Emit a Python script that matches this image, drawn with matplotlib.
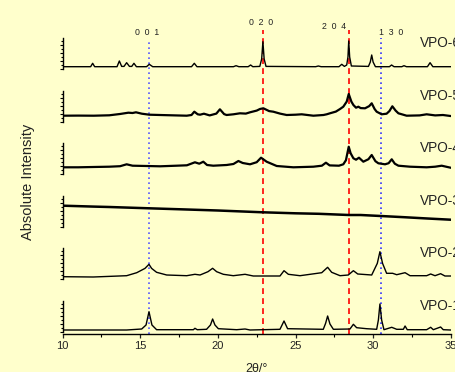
import matplotlib
matplotlib.use("Agg")
import matplotlib.pyplot as plt
from matplotlib.ticker import MultipleLocator

plt.rcParams['font.family'] = ['Liberation Sans', 'DejaVu Sans']

# --- data (2theta in degrees, intensity in a.u.) ---
samples = ["VPO-6", "VPO-5", "VPO-4", "VPO-3", "VPO-2", "VPO-1"]

vpo6_tt = [10.04, 11.8, 11.93, 12.06, 13.5, 13.65, 13.8, 13.95, 14.12, 14.3, 14.45, 14.59, 14.75,
           15.4, 15.58, 15.8, 18.3, 18.48, 18.65, 21.0, 21.17, 21.35, 21.95, 22.11, 22.25, 22.7,
           22.82, 22.9, 22.98, 23.1, 26.3, 26.47, 26.65, 27.8, 27.98, 28.15, 28.3, 28.38, 28.43,
           28.49, 28.6, 29.7, 29.82, 29.91, 30.0, 30.15, 31.05, 31.19, 31.35, 31.85, 31.99, 32.15,
           33.5, 33.67, 33.85, 34.99]
vpo6_int = [2.3, 2.3, 5.7, 2.3, 2.3, 8.0, 2.6, 2.6, 6.3, 2.6, 2.6, 5.7, 2.3,
            2.3, 4.7, 2.3, 2.3, 5.7, 2.3, 2.3, 3.3, 2.3, 2.3, 4.0, 2.3, 2.6,
            10.0, 27.3, 10.0, 2.6, 2.3, 3.0, 2.3, 2.3, 4.7, 2.6, 4.0, 12.0, 28.0,
            12.0, 3.0, 2.6, 7.0, 14.0, 7.0, 2.3, 2.3, 4.0, 2.3, 2.3, 3.3, 2.3,
            2.3, 6.3, 2.3, 2.3]

vpo5_tt = [10.04, 11.0, 12.0, 13.0, 13.69, 14.23, 14.5, 14.72, 15.1, 15.58, 16.27, 17.99, 18.3,
           18.48, 18.7, 18.85, 19.1, 19.47, 19.9, 20.13, 20.4, 20.56, 21.0, 21.42, 21.8, 22.07,
           22.5, 22.71, 22.93, 23.3, 23.57, 24.0, 24.43, 25.0, 25.4, 26.15, 26.8, 27.01, 27.22,
           27.6, 27.87, 28.08, 28.3, 28.43, 28.6, 28.73, 28.9, 29.05, 29.2, 29.48, 29.75, 29.91,
           30.1, 30.23, 30.55, 30.87, 31.05, 31.24, 31.45, 31.63, 32.16, 33.0, 33.45, 34.0, 34.5,
           34.99]
vpo5_int = [5.9, 6.0, 5.9, 6.3, 7.6, 8.9, 8.6, 9.3, 7.9, 6.9, 6.6, 5.9, 6.6,
            9.9, 7.3, 6.9, 7.9, 6.2, 8.0, 12.3, 7.5, 6.6, 7.3, 8.3, 8.0, 9.3,
            11.0, 12.6, 13.3, 10.5, 9.9, 8.0, 6.6, 6.9, 7.3, 5.9, 6.6, 7.3, 8.3,
            10.0, 12.6, 14.9, 20.0, 27.6, 20.0, 16.6, 13.9, 14.9, 13.5, 13.3, 15.5, 18.3,
            12.5, 9.9, 7.3, 7.9, 10.5, 15.3, 11.0, 8.3, 5.9, 6.2, 7.3, 6.2, 6.6,
            5.6]

vpo4_tt = [10.04, 11.0, 11.97, 13.0, 13.7, 14.12, 14.5, 15.41, 16.27, 17.34, 18.0, 18.52, 18.8,
           19.06, 19.3, 19.7, 20.56, 21.0, 21.32, 21.6, 22.07, 22.5, 22.78, 23.14, 23.79, 24.86,
           26.15, 26.7, 26.96, 27.2, 27.8, 28.08, 28.25, 28.43, 28.55, 28.73, 28.9, 29.09, 29.37,
           29.7, 29.91, 30.15, 30.34, 30.77, 31.0, 31.2, 31.4, 31.63, 32.38, 33.45, 34.0, 34.42,
           34.99]
vpo4_int = [6.9, 6.9, 7.2, 7.5, 8.0, 9.9, 8.5, 8.2, 7.9, 8.5, 8.9, 11.9, 10.5,
            12.5, 9.2, 8.5, 9.2, 10.2, 13.2, 11.2, 9.9, 12.0, 16.5, 12.5, 8.2, 6.9,
            7.5, 8.5, 11.5, 8.8, 8.5, 9.9, 14.0, 27.5, 21.0, 15.9, 14.5, 16.5, 12.5,
            15.0, 19.2, 13.0, 10.9, 9.9, 11.0, 14.9, 10.5, 8.5, 7.5, 6.9, 7.5, 8.5,
            6.5]

vpo3_tt = [10.04, 12.0, 13.0, 15.56, 18.0, 20.0, 22.9, 25.0, 26.5, 28.43, 29.2, 30.49, 32.0, 33.5, 34.99]
vpo3_int = [21.1, 20.2, 19.8, 18.5, 17.3, 16.3, 14.5, 13.5, 13.0, 11.8, 11.8, 10.8, 9.6, 8.3, 7.1]

vpo2_tt = [10.04, 11.97, 14.12, 14.77, 15.3, 15.56, 15.73, 16.05, 16.7, 17.99, 18.52, 18.85, 19.36,
           19.66, 19.92, 20.35, 20.99, 21.75, 22.28, 24.0, 24.26, 24.54, 25.29, 26.69, 27.07, 27.33,
           27.87, 28.4, 28.73, 29.01, 29.91, 30.27, 30.44, 30.61, 30.87, 31.26, 31.52, 32.06, 32.38,
           33.45, 33.71, 33.99, 34.35, 34.63, 34.99]
vpo2_int = [2.7, 2.4, 3.7, 6.7, 11.0, 15.1, 11.0, 7.1, 4.4, 3.7, 5.1, 4.4, 7.7,
            11.1, 7.7, 5.1, 3.7, 5.1, 3.4, 3.4, 8.7, 5.1, 3.7, 6.7, 12.1, 7.1,
            3.7, 4.4, 8.7, 5.4, 4.4, 16.0, 27.7, 16.0, 6.1, 6.1, 4.7, 6.7, 3.7,
            3.7, 5.4, 3.7, 5.7, 3.4, 3.4]

vpo1_tt = [10.04, 14.12, 15.09, 15.37, 15.56, 15.75, 16.05, 18.42, 18.52, 18.67, 19.27, 19.52, 19.66,
           19.81, 20.03, 21.21, 21.75, 22.07, 24.0, 24.26, 24.49, 26.79, 26.94, 27.07, 27.22, 27.44,
           28.51, 28.73, 28.94, 29.58, 30.23, 30.34, 30.44, 30.55, 30.7, 31.2, 31.52, 31.95, 32.06,
           32.2, 33.45, 33.71, 33.88, 34.35, 34.52, 34.99]
vpo1_int = [2.0, 2.0, 3.0, 7.0, 20.3, 7.0, 2.3, 2.3, 3.7, 2.3, 2.7, 7.0, 13.0,
            7.0, 3.3, 2.3, 3.0, 2.0, 2.7, 11.0, 3.3, 2.7, 8.7, 16.0, 8.0, 2.7,
            3.0, 7.7, 4.3, 3.3, 2.7, 12.0, 28.0, 12.0, 2.3, 4.7, 2.7, 2.7, 6.0,
            2.3, 2.3, 4.7, 2.3, 5.0, 2.3, 2.0]

patterns = [(vpo6_tt, vpo6_int), (vpo5_tt, vpo5_int), (vpo4_tt, vpo4_int),
            (vpo3_tt, vpo3_int), (vpo2_tt, vpo2_int), (vpo1_tt, vpo1_int)]

hkl_labels = ["0  0  1", "0  2  0", "2  0  4", "1  3  0"]
hkl_pos = [15.56, 22.93, 28.43, 30.49]

# --- layout (pixels of a 455x372 figure) ---
W, H = 455, 372
BG = "#FFFFCC"
line_widths = [1.0, 1.6, 1.6, 1.8, 1.0, 1.0]


def rect(left, top, width, height):
    return [left / W, 1 - (top + height) / H, width / W, height / H]


fig = plt.figure(figsize=(W / 100, H / 100), dpi=100, facecolor=BG)

main = fig.add_axes(rect(62.7, 30, 388, 304))
main.set_facecolor("none")
main.set_xlim(10, 35)
main.set_ylim(0, 1)
for s in ["top", "right", "left"]:
    main.spines[s].set_visible(False)
main.spines["bottom"].set_linewidth(1.0)
main.set_yticks([])
main.xaxis.set_major_locator(MultipleLocator(5))
main.xaxis.set_minor_locator(MultipleLocator(2.5))
main.tick_params(axis="x", which="major", direction="out", length=3, width=0.9,
                 labelsize=8, colors="#222222", pad=2)
main.tick_params(axis="x", which="minor", direction="out", length=1.8, width=0.8)
main.set_xlabel("2θ/°", fontsize=9, color="#222222", labelpad=9)
main.set_ylabel("Absolute Intensity", fontsize=10.5, color="#222222", labelpad=20)

line_styles = [((0, (1, 2)), "#5555FF", 0.967, 0.993, 15.45),
               ((0, (3.5, 2.5)), "#FF0000", 1.0, 1.024, 22.78),
               ((0, (3.5, 2.5)), "#FF0000", 1.0, 1.013, 27.48),
               ((0, (1, 2)), "#3333FF", 0.974, 0.993, 31.15)]
for pos, lab, (ls, col, ymax, ty, tx) in zip(hkl_pos, hkl_labels, line_styles):
    main.axvline(pos, ymin=0, ymax=ymax, ls=ls, color=col, lw=1.2, zorder=1)
    main.text(tx, ty, lab, transform=main.get_xaxis_transform(), ha="center", va="center",
              fontsize=6.3, color="#222222", clip_on=False)

for i, (name, (tt, inten)) in enumerate(zip(samples, patterns)):
    ax = fig.add_axes(rect(62.7, 38 + 52.6 * i, 388, 31))
    ax.set_facecolor("none")
    ax.plot(tt, inten, color="black", lw=line_widths[i], zorder=3)
    ax.set_xlim(10, 35)
    ax.set_ylim(0, 31)
    for s in ["top", "right", "bottom"]:
        ax.spines[s].set_visible(False)
    ax.spines["left"].set_linewidth(1.0)
    ax.set_xticks([])
    ax.yaxis.set_major_locator(MultipleLocator(8))
    ax.yaxis.set_minor_locator(MultipleLocator(4))
    ax.tick_params(axis="y", which="major", direction="out", length=2.5, width=0.8, labelleft=False)
    ax.tick_params(axis="y", which="minor", direction="out", length=1.4, width=0.8)
    ax.text(33.0, 26, name, fontsize=9.8, color="#222222", va="center", ha="left", clip_on=False)

fig.savefig("out.png", dpi=100, facecolor=BG)
